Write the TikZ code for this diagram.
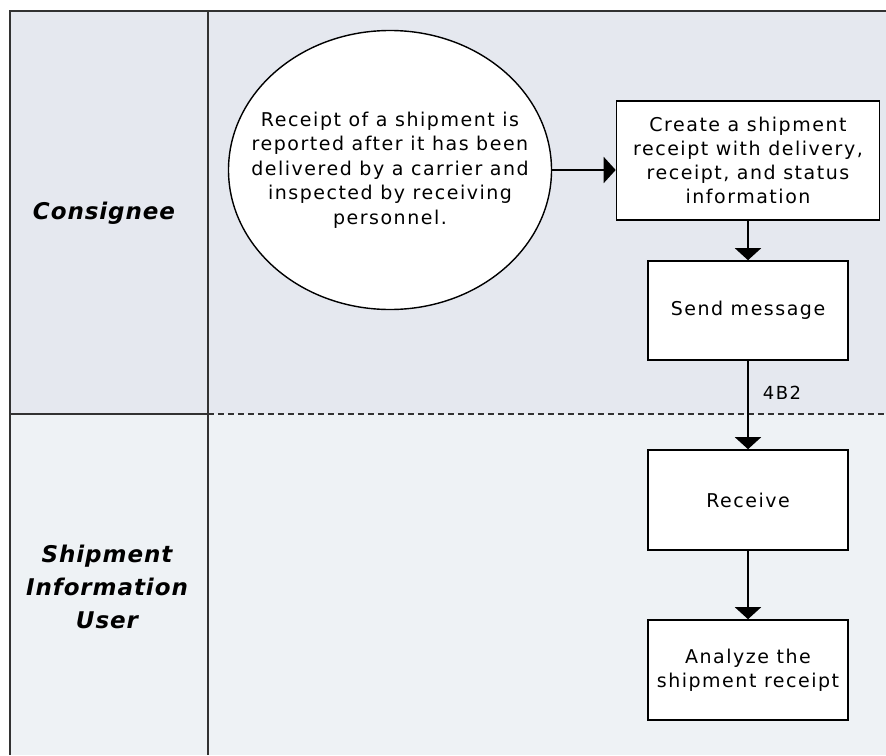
\documentclass[tikz,border=0pt]{standalone}
\usepackage{fontspec}
\setmainfont{DejaVu Sans}[LetterSpace=8]
\newfontfamily\lanefont{DejaVu Sans}[LetterSpace=4]
\usetikzlibrary{arrows.meta,shapes.geometric}
\definecolor{laneA}{RGB}{229,232,239}
\definecolor{laneB}{RGB}{238,242,245}
\definecolor{framec}{RGB}{50,50,50}
\tikzset{
  frameline/.style={draw=framec, line width=2pt},
  stepbox/.style={draw=black, line width=1.6pt, fill=white, rectangle, align=center,
    inner sep=0pt, font=\fontsize{19}{24}\selectfont},
  flow/.style={draw=black, line width=1.8pt, -{Triangle[width=26pt,length=12pt]}},
  lanelabel/.style={align=center, font=\lanefont\bfseries\itshape\fontsize{23}{33}\selectfont}
}
\begin{document}
\begin{tikzpicture}[x=1pt,y=-1pt]
\useasboundingbox (0,0) rectangle (886,755);
\fill[white] (0,0) rectangle (886,755);
\fill[laneA] (10,11) rectangle (886,414);
\fill[laneB] (10,414) rectangle (886,755);
\draw[frameline] (886,11) -- (10,11) -- (10,755);
\draw[frameline] (208,11) -- (208,755);
\draw[frameline] (10,414) -- (208,414);
\draw[frameline, dash pattern=on 6pt off 4pt] (208,414) -- (886,414);

\node[lanelabel] (consignee) at (104,213) {Consignee};
\node[lanelabel] (siu) at (107,587) {Shipment\\Information\\User};

\node[ellipse, draw=black, line width=1.4pt, fill=white, minimum width=323pt, minimum height=279pt,
  inner sep=-45pt, align=center, font=\fontsize{19}{24.5}\selectfont] (start) at (390,170)
  {Receipt of a shipment is\\reported after it has been\\delivered by a carrier and\\inspected by receiving\\personnel.};

\node[stepbox, minimum width=263pt, minimum height=119pt] (create) at (748,160.5)
  {Create a shipment\\receipt with delivery,\\receipt, and status\\information};
\node[stepbox, minimum width=200pt, minimum height=99pt] (send) at (748,310.5) {Send message};
\node[stepbox, minimum width=200pt, minimum height=100pt] (recv) at (748,500) {Receive};
\node[stepbox, minimum width=200pt, minimum height=100pt] (analyze) at (748,670)
  {Analyze the\\shipment receipt};

\draw[flow] (start.east) -- (start.east -| create.west);
\draw[flow] (create.south) -- (send.north);
\draw[flow] (send.south) -- node[pos=0.36, anchor=west, xshift=14pt, inner sep=0pt,
  font=\fontsize{18}{20}\selectfont] (lbl) {4B2} (recv.north);
\draw[flow] (recv.south) -- (analyze.north);
\end{tikzpicture}
\end{document}
